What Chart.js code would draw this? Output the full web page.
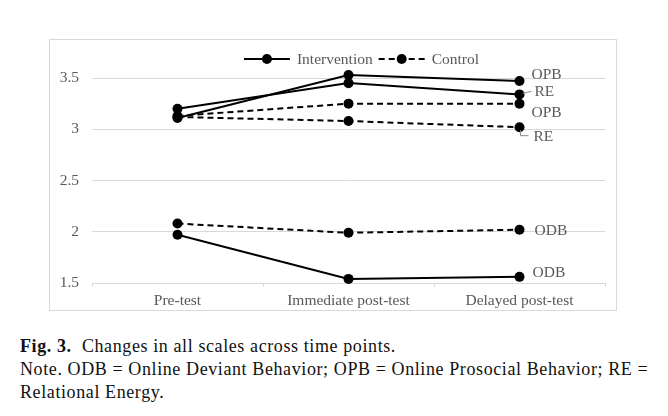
<!DOCTYPE html>
<html>
<head>
<meta charset="utf-8">
<script src="https://cdn.jsdelivr.net/npm/chart.js@4.4.0/dist/chart.umd.min.js"></script>
<style>
  body { margin: 0; background: #fff; width: 668px; height: 416px; position: relative; overflow: hidden; }
  #box { position: absolute; left: 49px; top: 39px; width: 566px; height: 270px; border: 1px solid #d9d9d9; }
  #caption { position: absolute; left: 20px; top: 335px; font-family: "Liberation Serif", serif; font-size: 18px; letter-spacing: 0.6px; line-height: 23px; color: #111; white-space: nowrap; }
</style>
</head>
<body>
<div id="box"><canvas id="chart" width="566" height="270"></canvas></div>
<div id="caption"><b>Fig. 3.</b>&nbsp; Changes in all scales across time points.<br>Note. ODB = Online Deviant Behavior; OPB = Online Prosocial Behavior; RE =<br>Relational Energy.</div>
<script>
const timePoints = ["Pre-test", "Immediate post-test", "Delayed post-test"]
const interventionOPB = [3.11, 3.53, 3.47]
const interventionRE = [3.20, 3.45, 3.34]
const interventionODB = [1.97, 1.54, 1.56]
const controlOPB = [3.13, 3.25, 3.25]
const controlRE = [3.12, 3.08, 3.02]
const controlODB = [2.08, 1.99, 2.02]
const yTicks = [1.5, 2, 2.5, 3, 3.5]
const groupNames = ["Intervention", "Control"]

const serif = "'Liberation Serif', 'Times New Roman', serif"
const grey = "#595959"

function makeSet(name, group, values) {
    let dashed = group === "Control"
    return {
        label: name,
        group: group,
        data: values,
        borderColor: "#000",
        backgroundColor: "#000",
        borderWidth: 2,
        borderDash: dashed ? [6, 4] : [],
        pointRadius: 5,
        pointBorderWidth: 0,
        tension: 0,
        clip: false
    }
}

// where the end label sits relative to the last point, and whether it gets a leader line
let endLabelStyle = [
    { dx: 12, dy: -6 },
    { dx: 15, dy: -2, leader: "slant" },
    { dx: 13, dy: -4 },
    { dx: 12, dy: 9 },
    { dx: 14, dy: 9.5, leader: "elbow" },
    { dx: 15, dy: 1 }
]

const endLabels = {
    id: "endLabels",
    afterDatasetsDraw(chart) {
        let ctx = chart.ctx
        ctx.save()
        ctx.font = "15.5px " + serif
        ctx.fillStyle = grey
        ctx.strokeStyle = "#8c8c8c"
        ctx.lineWidth = 1
        ctx.textBaseline = "middle"
        chart.data.datasets.forEach(function(ds, i) {
            let pts = chart.getDatasetMeta(i).data
            let p = pts[pts.length - 1]
            let st = endLabelStyle[i]
            if (st.leader === "slant") {
                ctx.beginPath()
                ctx.moveTo(p.x + 3, p.y - 1)
                ctx.lineTo(p.x + st.dx - 3, p.y + st.dy - 1)
                ctx.stroke()
            }
            if (st.leader === "elbow") {
                ctx.beginPath()
                ctx.moveTo(p.x + 1, p.y + 3)
                ctx.lineTo(p.x + 1, p.y + st.dy - 1)
                ctx.lineTo(p.x + st.dx - 5, p.y + st.dy - 1)
                ctx.stroke()
            }
            ctx.fillText(ds.label, p.x + st.dx, p.y + st.dy)
        })
        ctx.restore()
    }
}

const lineLegend = {
    id: "lineLegend",
    afterDraw(chart) {
        let ctx = chart.ctx
        ctx.save()
        ctx.font = "15.5px " + serif
        ctx.textBaseline = "middle"
        let y = 19
        let sample = 46
        let widths = groupNames.map(n => ctx.measureText(n).width)
        let total = sample * 2 + 14 + widths[0] + widths[1] + 6
        let x = (chart.chartArea.left + chart.chartArea.right) / 2 - total / 2 + 13
        groupNames.forEach(function(name, i) {
            ctx.strokeStyle = "#000"
            ctx.lineWidth = 2
            ctx.setLineDash(name === "Control" ? [6, 4] : [])
            ctx.beginPath()
            ctx.moveTo(x, y)
            ctx.lineTo(x + sample, y)
            ctx.stroke()
            ctx.setLineDash([])
            ctx.fillStyle = "#000"
            ctx.beginPath()
            ctx.arc(x + sample / 2, y, 5, 0, Math.PI * 2)
            ctx.fill()
            ctx.fillStyle = grey
            ctx.fillText(name, x + sample + 7, y + 1)
            x += sample + 7 + widths[i] + 6
        })
        ctx.restore()
    }
}

new Chart(document.getElementById("chart"), {
    type: "line",
    data: {
        labels: timePoints,
        datasets: [
            makeSet("OPB", "Intervention", interventionOPB),
            makeSet("RE", "Intervention", interventionRE),
            makeSet("ODB", "Intervention", interventionODB),
            makeSet("OPB", "Control", controlOPB),
            makeSet("RE", "Control", controlRE),
            makeSet("ODB", "Control", controlODB)
        ]
    },
    options: {
        responsive: false,
        animation: false,
        layout: { padding: { top: 38, right: 11, left: 0, bottom: 0 } },
        plugins: {
            legend: { display: false },
            tooltip: { enabled: false }
        },
        scales: {
            x: {
                offset: true,
                grid: { offset: true, drawOnChartArea: false, drawTicks: true, tickLength: 4, color: "#d9d9d9" },
                border: { display: true, color: "#d9d9d9" },
                ticks: { color: grey, font: { family: serif, size: 15.5 }, padding: 5, maxRotation: 0 },
                afterFit(scale) { scale.height = 27 }
            },
            y: {
                min: yTicks[0],
                max: yTicks[yTicks.length - 1],
                afterBuildTicks(scale) { scale.ticks = yTicks.map(v => ({ value: v })) },
                grid: { color: "#d9d9d9", drawTicks: false },
                border: { display: false },
                ticks: { color: grey, font: { family: serif, size: 15.5 }, padding: 13, callback: v => String(v) },
                afterFit(scale) { scale.width = 42 }
            }
        }
    },
    plugins: [endLabels, lineLegend]
})
</script>
</body>
</html>
